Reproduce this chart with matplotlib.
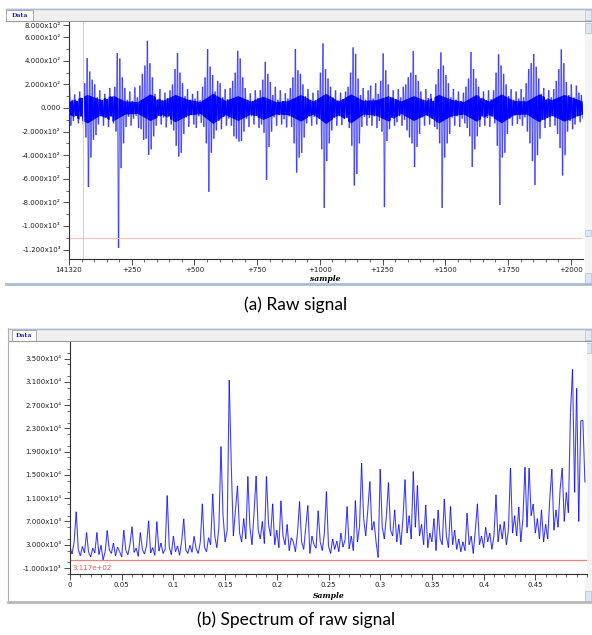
# ------------------------------
# Señal cruda y su espectro (dos capturas de ventana)
# ------------------------------

import numpy as np
import matplotlib.pyplot as plt
from matplotlib.patches import Rectangle
from matplotlib.collections import LineCollection
from matplotlib.ticker import FixedLocator, MultipleLocator

# ------------------------------
# PARTE 1: DATOS
# ------------------------------

# (a) señal cruda: máximo y mínimo en bloques de 10 muestras
paso_crudo = 10
maximos_crudo = [
    180, 70, 115, 60, 140, 85, 210, 423, 310, 240,
    200, 90, 150, 65, 120, 75, 170, 95, 180, 466,
    420, 260, 170, 70, 140, 60, 175, 90, 190, 290,
    360, 570, 380, 260, 120, 70, 160, 65, 130, 85,
    150, 200, 330, 466, 300, 210, 100, 160, 70, 120,
    80, 145, 65, 180, 260, 500, 350, 280, 140, 230,
    210, 90, 160, 75, 170, 230, 300, 485, 420, 260,
    170, 70, 125, 60, 150, 85, 150, 240, 392, 290,
    220, 110, 180, 70, 150, 60, 125, 80, 170, 260,
    500, 320, 290, 200, 100, 160, 70, 130, 65, 150,
    300, 548, 330, 250, 180, 90, 150, 65, 130, 75,
    140, 180, 300, 514, 460, 250, 110, 170, 70, 150,
    190, 80, 210, 120, 230, 463, 320, 200, 90, 150,
    75, 160, 90, 180, 200, 260, 300, 483, 280, 230,
    140, 70, 160, 85, 120, 60, 200, 330, 471, 360,
    280, 210, 90, 160, 70, 140, 60, 130, 180, 250,
    475, 330, 250, 180, 80, 140, 65, 150, 75, 150,
    300, 455, 360, 290, 200, 100, 160, 70, 140, 80,
    160, 90, 210, 330, 380, 458, 350, 250, 120, 170,
    70, 150, 90, 160, 230, 330, 497, 380, 220, 110,
    200, 90, 190, 130, 110,
]
minimos_crudo = [
    -150, -110, -65, -130, -70, -140, -250, -670, -420, -270,
    -230, -140, -70, -150, -80, -160, -70, -130, -200, -1186,
    -510, -300, -160, -75, -150, -90, -65, -170, -180, -270,
    -260, -398, -350, -240, -150, -65, -140, -80, -165, -70,
    -140, -190, -320, -412, -380, -220, -80, -160, -60, -140,
    -170, -70, -125, -160, -300, -711, -380, -260, -190, -110,
    -180, -75, -150, -90, -150, -240, -260, -285, -280, -200,
    -90, -160, -70, -140, -65, -170, -140, -210, -610, -330,
    -200, -80, -150, -60, -140, -95, -165, -70, -160, -300,
    -548, -420, -380, -250, -130, -70, -150, -75, -140, -90,
    -350, -847, -450, -300, -190, -80, -150, -70, -145, -90,
    -80, -170, -320, -658, -560, -300, -160, -75, -150, -85,
    -150, -70, -170, -110, -200, -840, -280, -180, -80, -150,
    -120, -70, -150, -100, -190, -250, -300, -500, -330, -220,
    -80, -150, -65, -140, -90, -160, -180, -300, -847, -420,
    -300, -220, -80, -150, -70, -160, -90, -130, -170, -240,
    -500, -350, -240, -160, -70, -150, -85, -160, -70, -130,
    -320, -822, -420, -380, -220, -90, -150, -65, -135, -95,
    -150, -80, -200, -300, -450, -652, -400, -260, -100, -170,
    -85, -160, -70, -150, -220, -340, -573, -400, -200, -110,
    -180, -140, -70, -120, -90,
]
# franja oscura (zona densa de la señal), bloques de 50 muestras
paso_nucleo = 50
nucleo_sup = [50, 110, 70, 105, 55, 50, 115, 60, 110, 70,
              50, 120, 60, 100, 55, 95, 50, 60, 110, 55,
              120, 55, 115, 60, 65, 100, 55, 100, 60, 110,
              70, 50, 110, 55, 115, 60, 55, 115, 65, 110, 55]
nucleo_inf = [-55, -130, -65, -115, -55, -50, -110, -60, -120, -65,
              -50, -135, -60, -110, -55, -100, -55, -60, -115, -55,
              -135, -60, -130, -55, -65, -115, -50, -110, -60, -130,
              -70, -55, -115, -60, -130, -60, -55, -120, -65, -115, -55]
marcas_y_crudo = [700, 600, 400, 200, 0, -200, -400, -600, -800, -1000, -1200]
etiquetas_y_crudo = ["8.000x10²", "6.000x10²", "4.000x10²", "2.000x10²", "0.000",
                     "-2.000x10²", "-4.000x10²", "-6.000x10²", "-8.000x10²",
                     "-1.000x10³", "-1.200x10³"]
marcas_x_crudo = [0, 250, 500, 750, 1000, 1250, 1500, 1750, 2000]
etiquetas_x_crudo = ["141320", "+250", "+500", "+750", "+1000", "+1250",
                     "+1500", "+1750", "+2000"]
cursor_x = 56
cursor_y = -1102

# (b) espectro: un valor cada 0.002
paso_espectro = 0.002
espectro = [
    2600, 1400, 3500, 8670, 2200, 1100, 2700, 1600, 5100, 1700,
    900, 2400, 1600, 5100, 1300, 2900, 400, 1800, 5460, 2100,
    1500, 3300, 1100, 2600, 1800, 900, 5500, 2000, 1300, 3100,
    6100, 1700, 2400, 1000, 5100, 2200, 1400, 2800, 7120, 1600,
    2500, 1200, 6970, 1900, 3300, 1500, 2200, 11460, 2600, 1300,
    4500, 1800, 2800, 1200, 3600, 7460, 2100, 1500, 2900, 1700,
    4450, 2300, 1500, 3400, 10040, 2600, 1800, 4200, 3000, 11760,
    4500, 2500, 6000, 19880, 8000, 3500, 5500, 31330, 16400, 4500,
    9000, 13130, 5000, 3500, 7500, 4000, 14730, 6000, 3000, 8500,
    14800, 5500, 4000, 7000, 3200, 14730, 6500, 4500, 10040, 3000,
    5500, 2500, 10550, 4500, 3000, 6500, 2000, 4200, 3500, 1800,
    5000, 10440, 3500, 2200, 6000, 9750, 1500, 4500, 3000, 2400,
    8840, 3500, 2000, 5000, 12150, 2800, 1500, 4000, 2200, 3600,
    1800, 5000, 2600, 3800, 9580, 2300, 4500, 2000, 10600, 3500,
    6000, 17030, 7500, 4500, 9000, 13870, 5500, 7000, 3500, 800,
    16000, 6000, 4000, 8000, 13690, 5500, 4500, 9000, 3500, 6500,
    3000, 7500, 14200, 5000, 8000, 4000, 15590, 6000, 13180, 4500,
    6500, 3000, 9860, 2500, 5000, 3500, 7500, 2000, 8980, 4000,
    3000, 10850, 4500, 2500, 9580, 3000, 5500, 2200, 4000, 1800,
    3500, 2000, 8440, 3000, 4500, 1500, 5500, 10040, 3000, 4500,
    2500, 6000, 3500, 5000, 2200, 4500, 11590, 3500, 6500, 4000,
    7000, 3000, 5500, 16170, 5000, 8000, 4500, 9500, 3500, 7500,
    16340, 6000, 16170, 8000, 10000, 5000, 7500, 4000, 9000, 3500,
    6500, 4000, 11000, 16000, 5500, 9000, 6000, 12500, 16170, 7000,
    12000, 8500, 25710, 33150, 12000, 29900, 7000, 24300, 24400, 13700,
]
marcas_y_espectro = [35000, 31000, 27000, 23000, 19000, 15000, 11000, 7000, 3000, -1000]
etiquetas_y_espectro = ["3.500x10⁴", "3.100x10⁴", "2.700x10⁴", "2.300x10⁴", "1.900x10⁴",
                        "1.500x10⁴", "1.100x10⁴", "7.000x10³", "3.000x10³", "-1.000x10³"]
marcas_x_espectro = [0, 0.05, 0.1, 0.15, 0.2, 0.25, 0.3, 0.35, 0.4, 0.45]
etiquetas_x_espectro = ["0", "0.05", "0.1", "0.15", "0.2", "0.25", "0.3", "0.35", "0.4", "0.45"]
umbral = 311.7


def zigzag(maximos, minimos, paso):
    # cada bloque se dibuja de su máximo a su mínimo
    inicio = np.arange(len(maximos)) * paso
    xs = np.column_stack([inicio + paso * 0.25, inicio + paso * 0.75]).ravel()
    ys = np.column_stack([maximos, minimos]).ravel()
    return xs, ys


def trazo(ax, xs, ys, lw, alpha):
    # segmentos sueltos para que los cruces se vean más oscuros
    pts = np.column_stack([xs, ys])
    segs = np.stack([pts[:-1], pts[1:]], axis=1)
    lc = LineCollection(segs, colors='#0000ff', linewidths=lw, alpha=alpha)
    ax.add_collection(lc)
    return lc


# ------------------------------
# PARTE 2: FIGURA Y MARCOS DE VENTANA
# ------------------------------

W, H = 592, 635
fig = plt.figure(figsize=(W / 100, H / 100), dpi=100)

fondo = fig.add_axes([0, 0, 1, 1])
fondo.set_xlim(0, W)
fondo.set_ylim(H, 0)
fondo.axis('off')


def caja(x0, y0, x1, y1, **kw):
    fondo.add_patch(Rectangle((x0, y0), x1 - x0, y1 - y0, **kw))


def rect_px(x0, y0, x1, y1):
    return [x0 / W, 1 - y1 / H, (x1 - x0) / W, (y1 - y0) / H]


for (top, bottom, izq, tab_x0, tab_x1) in [(8, 284, 6, 6, 33), (328, 602, 8, 12, 36)]:
    # barra de pestañas
    caja(izq, top, W, top + 13, facecolor='#f0f0f0', edgecolor='none')
    fondo.plot([izq, W], [top + 0.5, top + 0.5], color='#a8bcd8', lw=1.0)
    fondo.plot([izq, W], [top + 13, top + 13], color='#9a9a9a', lw=0.8)
    caja(tab_x0, top + 1.5, tab_x1, top + 13, facecolor='white', edgecolor='#9a9a9a', lw=0.6)
    fondo.text((tab_x0 + tab_x1) / 2, top + 7.5, "Data", fontsize=4.5, color='#2020c0',
               ha='center', va='center', family='DejaVu Serif', weight='bold')
    # barra de desplazamiento
    caja(W - 7, top + 14, W, bottom, facecolor='#f4f4f4', edgecolor='none')
    caja(W - 7, top + 15, W - 1, top + 25, facecolor='#dde6f2', edgecolor='#b0bfd4', lw=0.5)
    caja(W - 7, bottom - 11, W - 1, bottom - 1, facecolor='#dde6f2', edgecolor='#b0bfd4', lw=0.5)
    caja(W - 7, top + 2, W - 1, top + 12, facecolor='#e4ebf4', edgecolor='#b0bfd4', lw=0.5)

fondo.plot([6, W], [284, 284], color='#a8bcd8', lw=2.0)
fondo.plot([8, 8], [328, 602], color='#b0b0b0', lw=0.8)
fondo.plot([8, W], [602, 602], color='#b8b8b8', lw=2.0)
caja(W - 7, 230, W - 1, 236, facecolor='#dde6f2', edgecolor='#b0bfd4', lw=0.5)


def estilo_ejes(ax):
    for lado in ['top', 'right']:
        ax.spines[lado].set_visible(False)
    for lado in ['left', 'bottom']:
        ax.spines[lado].set_color('#303030')
        ax.spines[lado].set_linewidth(0.8)
    ax.tick_params(which='major', length=4, width=0.6, labelsize=5, pad=2,
                   color='#303030', labelcolor='#202020')
    ax.tick_params(which='minor', length=2, width=0.5, color='#303030')
    ax.set_facecolor('white')


# ------------------------------
# PARTE 3: (a) SEÑAL CRUDA
# ------------------------------

ax1 = fig.add_axes(rect_px(69, 22, 583, 259))
xs, ys = zigzag(maximos_crudo, minimos_crudo, paso_crudo)
trazo(ax1, xs, ys, lw=1.0, alpha=0.5)
# misma señal en azul pleno, recortada a la franja densa
xn = np.arange(len(nucleo_sup)) * paso_nucleo + paso_nucleo / 2
xn[0], xn[-1] = 0, len(maximos_crudo) * paso_crudo
franja = ax1.fill_between(xn, nucleo_inf, nucleo_sup, facecolor='none', edgecolor='none')
oscuro = trazo(ax1, xs, ys, lw=1.3, alpha=1.0)
oscuro.set_clip_path(franja.get_paths()[0], ax1.transData)
ax1.axvline(cursor_x, color='#f4c4c4', lw=0.8)
ax1.axhline(cursor_y, color='#f4c4c4', lw=0.8)
ax1.set_xlim(0, 2049)
ax1.set_ylim(-1280, 729)
ax1.yaxis.set_major_locator(FixedLocator(marcas_y_crudo))
ax1.set_yticklabels(etiquetas_y_crudo)
ax1.yaxis.set_minor_locator(MultipleLocator(100))
ax1.xaxis.set_major_locator(FixedLocator(marcas_x_crudo))
ax1.set_xticklabels(etiquetas_x_crudo)
ax1.xaxis.set_minor_locator(MultipleLocator(50))
estilo_ejes(ax1)
fig.text(325 / W, 1 - 279 / H, "sample", fontsize=5.5, style='italic', weight='bold',
         family='DejaVu Serif', ha='center', va='center')

# ------------------------------
# PARTE 4: (b) ESPECTRO
# ------------------------------

ax2 = fig.add_axes(rect_px(70, 342, 587, 574))
xs = np.arange(len(espectro)) * paso_espectro
trazo(ax2, xs, np.array(espectro), lw=0.8, alpha=0.75)
ax2.axhline(umbral, color='#f08080', lw=0.9)
ax2.text(0.002, -1000, f"{umbral:.3e}", fontsize=5, color='#ff5050',
         ha='left', va='center')
ax2.set_xlim(0, 0.5)
ax2.set_ylim(-2030, 37855)
ax2.yaxis.set_major_locator(FixedLocator(marcas_y_espectro))
ax2.set_yticklabels(etiquetas_y_espectro)
ax2.yaxis.set_minor_locator(MultipleLocator(2000))
ax2.xaxis.set_major_locator(FixedLocator(marcas_x_espectro))
ax2.set_xticklabels(etiquetas_x_espectro)
ax2.xaxis.set_minor_locator(MultipleLocator(0.01))
estilo_ejes(ax2)
fig.text(329 / W, 1 - 596 / H, "Sample", fontsize=5.5, style='italic', weight='bold',
         family='DejaVu Serif', ha='center', va='center')

# ------------------------------
# PARTE 5: PIES DE FIGURA
# ------------------------------

fig.text(296 / W, 1 - 305 / H, "(a) Raw signal", fontsize=12.5, family='Lato',
         ha='center', va='center')
fig.text(296 / W, 1 - 620 / H, "(b) Spectrum of raw signal", fontsize=12.5, family='Lato',
         ha='center', va='center')

fig.savefig("out.png", dpi=100)
